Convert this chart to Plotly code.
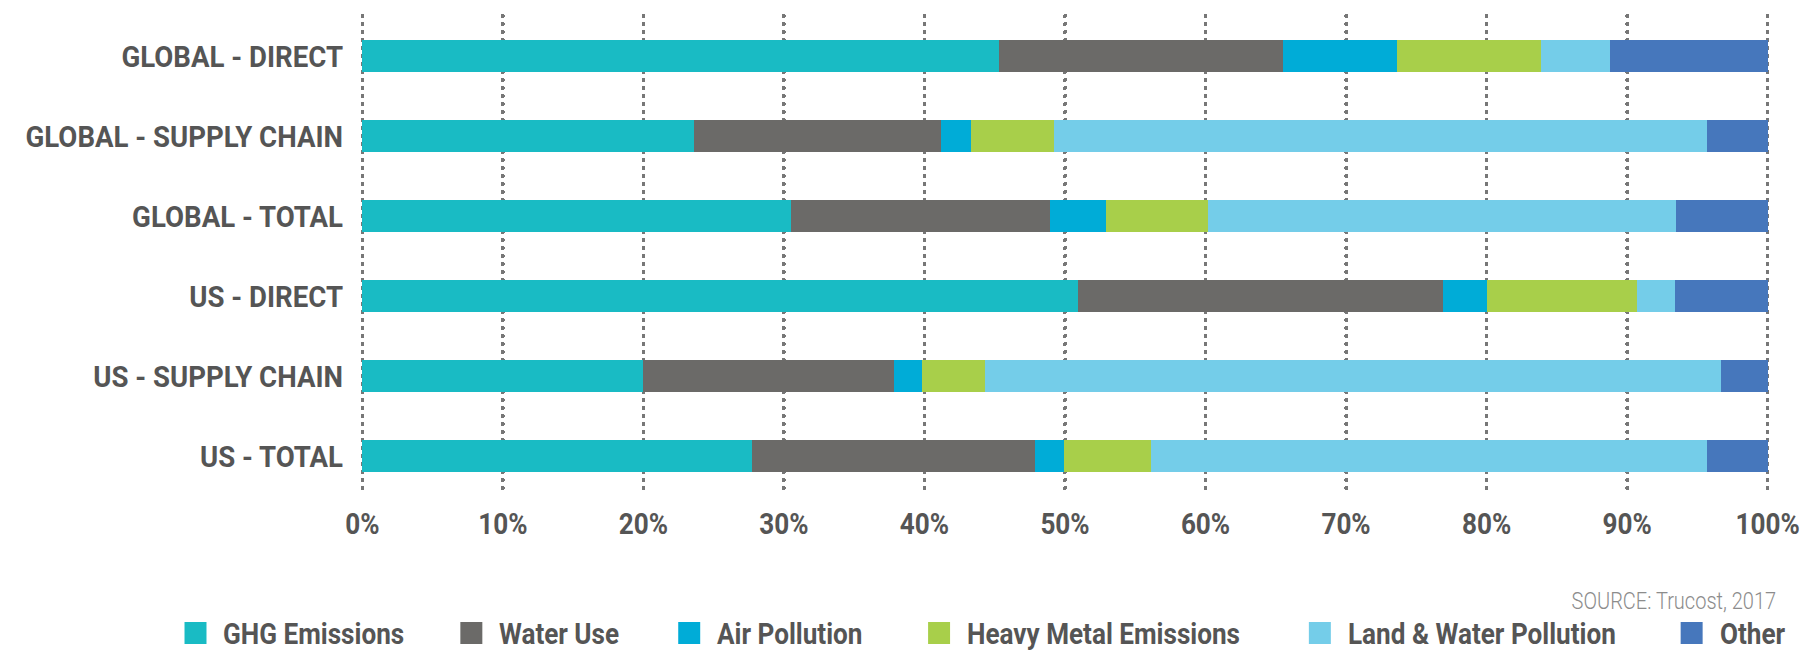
import plotly.graph_objects as go

# Rows, top to bottom
categories = [
    "GLOBAL - DIRECT",
    "GLOBAL - SUPPLY CHAIN",
    "GLOBAL - TOTAL",
    "US - DIRECT",
    "US - SUPPLY CHAIN",
    "US - TOTAL",
]

# Share of impact by category (%), one list per impact type
ghg_emissions = [45.3, 23.6, 30.5, 50.9, 20.0, 27.7]
water_use = [20.2, 17.6, 18.4, 26.0, 17.8, 20.2]
air_pollution = [8.1, 2.1, 4.0, 3.1, 2.0, 2.0]
heavy_metal = [10.3, 5.9, 7.3, 10.7, 4.5, 6.2]
land_water = [4.9, 46.5, 33.3, 2.7, 52.4, 39.6]
other = [11.2, 4.3, 6.5, 6.6, 3.3, 4.3]

series_names = [
    "GHG Emissions",
    "Water Use",
    "Air Pollution",
    "Heavy Metal Emissions",
    "Land & Water Pollution",
    "Other",
]
series_values = [ghg_emissions, water_use, air_pollution, heavy_metal, land_water, other]
series_colors = ["#19bbc4", "#6b6a68", "#00acd7", "#a8cf4a", "#74cde9", "#4677bc"]

tick_values = [i / 10 for i in range(11)]
tick_labels = [f"{i * 10}%" for i in range(11)]

source_text = "SOURCE: Trucost, 2017"

# Page geometry (px); x range is padded a hair so the 0% / 100% grid lines show
FIG_W, FIG_H = 1803, 650
X_PAD = 0.001
AX0_PX, AX1_PX = 362.0, 1768.0          # where 0% and 100% fall
UNIT_PX = AX1_PX - AX0_PX
PLOT_W = UNIT_PX * (1 + 2 * X_PAD)
M_L = AX0_PX - UNIT_PX * X_PAD
M_R = FIG_W - M_L - PLOT_W
M_T, M_B = 16, 154
PLOT_H = FIG_H - M_T - M_B

FONT = "Roboto, Arial, sans-serif"
TEXT_COLOR = "#555555"


def px_x(px):
    return (px - M_L) / PLOT_W


def px_y(py):
    return (FIG_H - M_B - py) / PLOT_H


fig = go.Figure()
for name, vals, color in zip(series_names, series_values, series_colors):
    fig.add_trace(
        go.Bar(
            y=categories,
            x=[v / 100 for v in vals],
            name=name,
            orientation="h",
            marker=dict(color=color, line=dict(width=0)),
            showlegend=False,
        )
    )

# Legend row drawn as swatches + labels
legend_left_px = [184, 460, 678, 928, 1309, 1681]
swatch_px = 22
legend_top_px = 622
for name, color, left in zip(series_names, series_colors, legend_left_px):
    fig.add_shape(
        type="rect",
        xref="paper",
        yref="paper",
        x0=px_x(left),
        x1=px_x(left + swatch_px),
        y0=px_y(legend_top_px + swatch_px),
        y1=px_y(legend_top_px),
        fillcolor=color,
        line=dict(width=0),
    )
    fig.add_annotation(
        text=name,
        xref="paper",
        yref="paper",
        x=px_x(left + 37),
        y=px_y(legend_top_px + swatch_px / 2),
        xanchor="left",
        yanchor="middle",
        align="left",
        showarrow=False,
        font=dict(family=FONT, size=30, color=TEXT_COLOR, weight=700),
    )

fig.add_annotation(
    text=source_text,
    xref="paper",
    yref="paper",
    x=px_x(1778),
    y=px_y(601),
    xanchor="right",
    yanchor="middle",
    align="right",
    showarrow=False,
    font=dict(family=FONT, size=23, color="#8c8c8c", weight=300),
)

fig.update_layout(
    width=FIG_W,
    height=FIG_H,
    margin=dict(l=M_L, r=M_R, t=M_T, b=M_B, autoexpand=False),
    barmode="stack",
    bargap=0.6,
    plot_bgcolor="white",
    paper_bgcolor="white",
    font=dict(family=FONT, color=TEXT_COLOR),
    xaxis=dict(
        range=[-X_PAD, 1 + X_PAD],
        tickvals=tick_values,
        ticktext=tick_labels,
        tickfont=dict(family=FONT, size=30, color=TEXT_COLOR, weight=700),
        showgrid=True,
        gridcolor="#777777",
        gridwidth=3.6,
        griddash="0px,8px",
        zeroline=False,
        showline=False,
        ticks="",
        ticklabelstandoff=7,
        ticklabeloverflow="allow",
        fixedrange=True,
    ),
    yaxis=dict(
        categoryorder="array",
        categoryarray=categories,
        autorange="reversed",
        tickvals=categories,
        ticktext=categories,
        tickfont=dict(family=FONT, size=30, color=TEXT_COLOR, weight=700),
        showgrid=False,
        zeroline=False,
        showline=False,
        ticks="",
        ticklabelstandoff=17,
        ticklabeloverflow="allow",
        fixedrange=True,
    ),
)

# Round dotted grid lines and a condensed cut of the label type
page_script = """
var gd = document.getElementsByClassName('plotly-graph-div')[0];
function condense(sel, f) {
  gd.querySelectorAll(sel).forEach(function (t) {
    t.removeAttribute('textLength');
    var w = t.getComputedTextLength();
    if (w > 0) {
      t.setAttribute('lengthAdjust', 'spacingAndGlyphs');
      t.setAttribute('textLength', (w * f).toFixed(2));
    }
  });
}
function styleChart() {
  gd.querySelectorAll('.xgrid').forEach(function (p) {
    p.style.strokeLinecap = 'round';
  });
  condense('.xtick text, text.annotation-text', 0.87);
  condense('.ytick text', 0.92);
}
styleChart();
gd.on('plotly_afterplot', styleChart);
if (document.fonts && document.fonts.ready) { document.fonts.ready.then(styleChart); }
"""

fig.write_html("out.html", post_script=page_script, config={"displayModeBar": False})
